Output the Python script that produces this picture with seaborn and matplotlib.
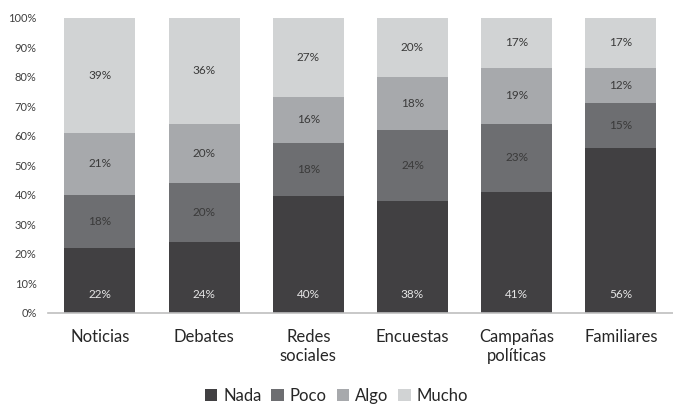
import matplotlib
matplotlib.use("Agg")
import matplotlib.pyplot as plt
import seaborn as sns
import pandas as pd
import numpy as np
from matplotlib.patches import Patch
from matplotlib.ticker import FuncFormatter

# Survey responses per source (percent)
categories = ["Noticias", "Debates", "Redes\nsociales", "Encuestas", "Campañas\npolíticas", "Familiares"]
nada = [22, 24, 40, 38, 41, 56]
poco = [18, 20, 18, 24, 23, 15]
algo = [21, 20, 16, 18, 19, 12]
mucho = [39, 36, 27, 20, 17, 17]

series_names = ["Nada", "Poco", "Algo", "Mucho"]
series_colors = ["#414042", "#6d6e71", "#a7a9ac", "#d1d3d4"]
label_colors = ["#e6e6e6", "#3a3a3a", "#3a3a3a", "#3a3a3a"]

sns.set_theme(style="white")
plt.rcParams["font.family"] = ["Lato", "DejaVu Sans"]

values = np.array([nada, poco, algo, mucho], dtype=float)
shares = values / values.sum(axis=0)  # 100% stacked
cum = np.cumsum(shares, axis=0)

fig = plt.figure(figsize=(6.73, 4.05), dpi=100)
ax = fig.add_axes([0.071, 0.228, 0.929, 0.728])

# Draw cumulative totals from the top series down so each layer sits on the next
for i in range(len(series_names) - 1, -1, -1):
    df = pd.DataFrame({"cat": categories, "val": cum[i]})
    sns.barplot(data=df, x="cat", y="val", color=series_colors[i], saturation=1,
                width=0.68, ax=ax, order=categories, linewidth=0)

# Value labels
for j in range(len(categories)):
    for i in range(len(series_names)):
        if i == 0:
            y = 0.062
        else:
            y = cum[i - 1, j] + shares[i, j] / 2
        ax.text(j, y, f"{values[i, j]:.0f}%", ha="center", va="center",
                fontsize=8.5, color=label_colors[i])

ax.set_xlim(-0.5, 5.5)
ax.set_ylim(0, 1)
ax.set_yticks(np.arange(0, 1.01, 0.1))
ax.yaxis.set_major_formatter(FuncFormatter(lambda v, _: f"{v * 100:.0f}%"))
ax.set_xlabel("")
ax.set_ylabel("")
ax.tick_params(axis="y", labelsize=8, colors="#404040", length=0, pad=8)
ax.tick_params(axis="x", labelsize=12, colors="#262626", length=0, pad=12)
for lbl in ax.get_yticklabels():
    lbl.set_color("#404040")

for side in ["left", "right", "top"]:
    ax.spines[side].set_visible(False)
ax.spines["bottom"].set_color("#bfbfbf")
ax.spines["bottom"].set_linewidth(1.2)

handles = [Patch(facecolor=c, edgecolor="none", label=n) for n, c in zip(series_names, series_colors)]
fig.legend(handles=handles, loc="center", bbox_to_anchor=(0.5, 0.022), ncol=4, frameon=False,
           fontsize=12, handlelength=0.75, handleheight=0.75, handletextpad=0.35,
           columnspacing=0.6, labelcolor="#262626")

fig.savefig("out.png", dpi=100, facecolor="white")
